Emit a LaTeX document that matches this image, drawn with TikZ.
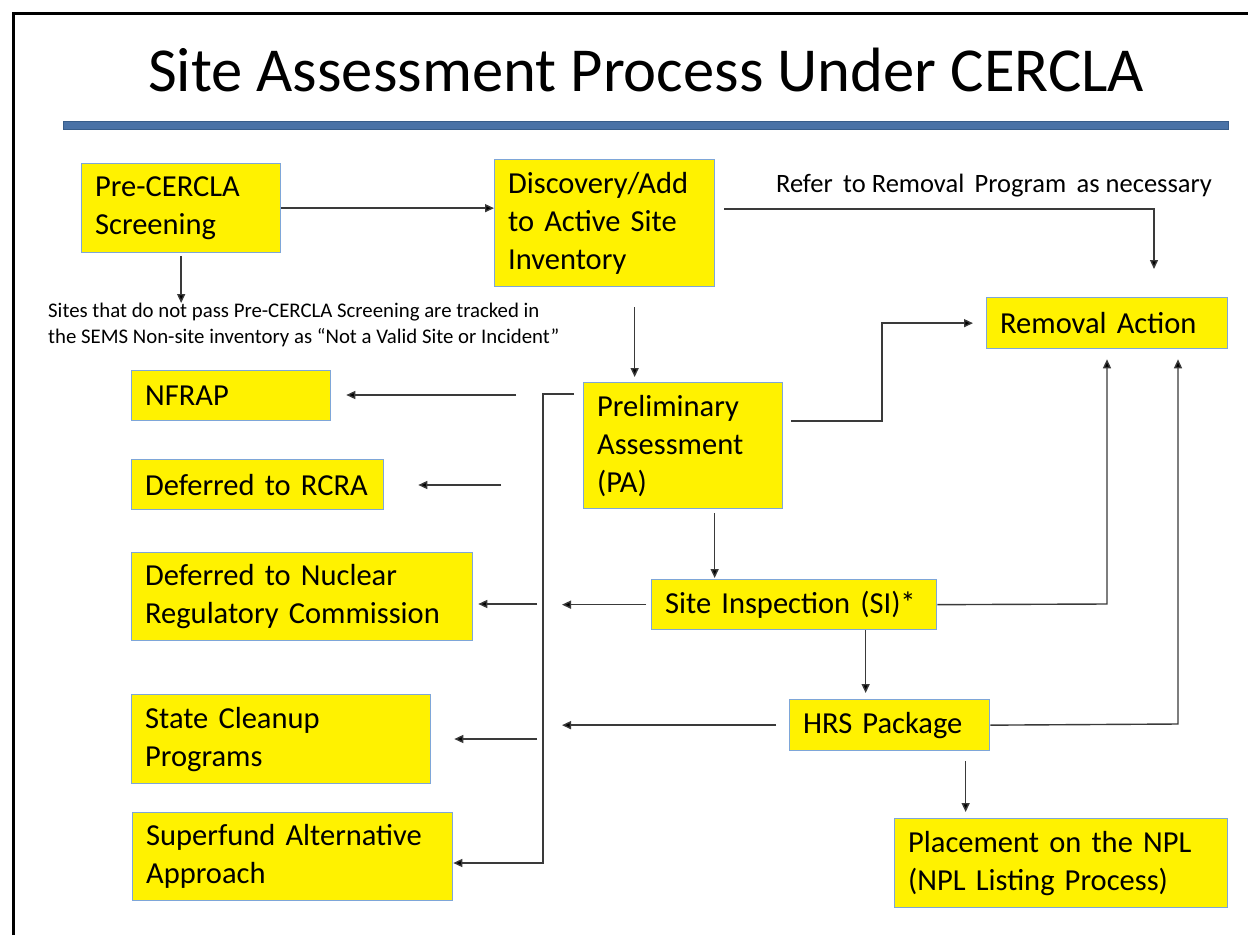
\documentclass[tikz,border=0pt]{standalone}
\usepackage{fontspec}
\setmainfont{Carlito}
\usetikzlibrary{arrows.meta}
\definecolor{boxborder}{HTML}{7EA6D8}
\definecolor{rulefill}{HTML}{4A72A6}
\definecolor{ruledraw}{HTML}{385D8A}
\definecolor{linegray}{HTML}{3A3A3A}
\begin{document}
\begin{tikzpicture}[x=1pt,y=-1pt,
  box/.style={draw=boxborder, fill=yellow, line width=1.3pt, anchor=north west,
    inner xsep=13.5pt, inner ysep=0pt, align=left, font=\fontsize{30.5}{38}\selectfont},
  arr/.style={draw=linegray, line width=1.4pt, -{Triangle[length=9pt,width=8pt,fill=black]}},
  ln/.style={draw=linegray, line width=1.4pt}]
\useasboundingbox (0,0) rectangle (1248,935);
\fill[white] (0,0) rectangle (1248,935);
% frame
\draw[line width=3pt, black] (13.5,935) -- (13.5,13.5) -- (1248,13.5);
% title
\node[anchor=base, font=\fontsize{62.6}{70}\selectfont, inner sep=0pt] (title) at (646,91) {Site Assessment Process Under CERCLA};
% blue rule
\draw[fill=rulefill, draw=ruledraw, line width=1pt] (63,121) rectangle (1228,129);

% boxes
\node[box, text width=172pt, minimum height=89pt] (pre) at (81,163) {Pre-CERCLA\\Screening};
\node[box, text width=193pt, minimum height=127pt] (disc) at (494,159) {Discovery/Add\\to Active Site\\Inventory};
\node[box, text width=214pt, minimum height=51pt] (rem) at (986,297) {Removal Action};
\node[box, text width=172pt, minimum height=50pt] (nfrap) at (131,370) {NFRAP};
\node[box, text width=172pt, minimum height=126pt] (pa) at (583,382) {Preliminary\\Assessment\\(PA)};
\node[box, text width=225pt, minimum height=50pt] (rcra) at (131,459) {Deferred to RCRA};
\node[box, text width=314pt, minimum height=88pt] (nrc) at (131,552) {Deferred to Nuclear\\Regulatory Commission};
\node[box, text width=258pt, minimum height=50pt] (si) at (651,579) {Site Inspection (SI)*};
\node[box, text width=272pt, minimum height=89pt] (state) at (131,694) {State Cleanup\\Programs};
\node[box, text width=293pt, minimum height=88pt] (saa) at (132,812) {Superfund Alternative\\Approach};
\node[box, text width=173pt, minimum height=51pt] (hrs) at (789,699) {HRS Package};
\node[box, text width=306pt, minimum height=89pt] (npl) at (894,818) {Placement on the NPL\\(NPL Listing Process)};

% texts
\node[anchor=north west, align=left, inner sep=0pt, font=\fontsize{20.8}{25.5}\selectfont] (note) at (48,303)
  {Sites that do not pass Pre-CERCLA Screening are tracked in\\the SEMS Non-site inventory as “Not a Valid Site or Incident”};
\node[anchor=center, inner sep=0pt, font=\fontsize{26.5}{30}\selectfont] (refer) at (994,186)
  {Refer\, to Removal\, Program\, as necessary};

% bend coordinates
\coordinate (rb) at (1154,209);
\coordinate (pb) at (882,421);
\coordinate (brtop) at (543,394);
\coordinate (brbot) at (543,863);
\coordinate (sb) at (1107,604);
\coordinate (hb) at (1178,724);
\coordinate (n1) at (516,395);
\coordinate (n2) at (501,485);
\coordinate (n3) at (537,604);
\coordinate (n4) at (537,739);

% connectors
\draw[arr] (pre.east) -- (pre.east -| disc.west);
\draw[arr, shorten <=3pt] (pre.south) -- (pre.south |- note.north);
\draw[arr, shorten <=9pt, shorten >=28pt] (disc.east |- rb) -- (rb) -- (rb |- rem.north);
\draw[arr, shorten <=20pt, shorten >=5pt] ([xshift=30pt]disc.south) -- ([xshift=30pt]disc.south |- pa.north);
\draw[arr, shorten <=8pt, shorten >=13pt] (pa.east |- pb) -- (pb) |- (rem.west);
\draw[arr, shorten <=9pt] (pa.west |- brtop) -- (brtop) -- (brbot) -- (saa.east |- brbot);
\draw[arr, shorten >=15pt] (n1) -- (n1 -| nfrap.east);
\draw[arr, shorten >=34pt] (n2) -- (n2 -| rcra.east);
\draw[arr, shorten >=5pt] (n3) -- (n3 -| nrc.east);
\draw[arr, shorten >=23pt] (n4) -- (n4 -| state.east);
\draw[arr, shorten <=5pt, shorten >=19pt] (si.west) -- (si.west -| brtop);
\draw[arr, shorten <=13pt, shorten >=19pt] (hrs.west) -- (hrs.west -| brtop);
\draw[arr, shorten <=4pt, shorten >=1pt] ([xshift=31.5pt]pa.south) -- ([xshift=31.5pt]pa.south |- si.north);
\draw[arr, shorten >=10pt] (si.east) -- (sb) -- (sb |- rem.south);
\draw[arr, shorten >=6pt] ([xshift=71.5pt]si.south) -- ([xshift=71.5pt]si.south |- hrs.north);
\draw[arr, shorten >=10pt] (hrs.east) -- (hb) -- (hb |- rem.south);
\draw[arr, shorten <=10pt, shorten >=6pt] ([xshift=76pt]hrs.south) -- ([xshift=76pt]hrs.south |- npl.north);
\end{tikzpicture}
\end{document}
